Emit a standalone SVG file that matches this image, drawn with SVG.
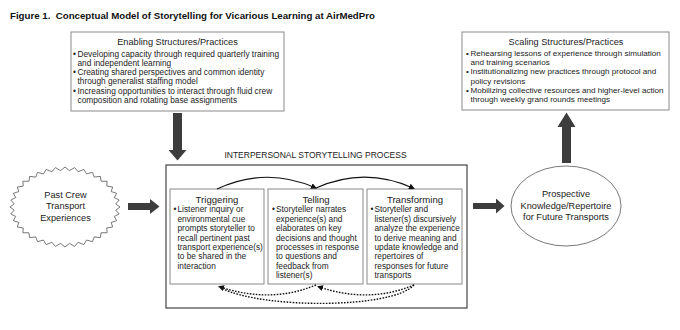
<svg xmlns="http://www.w3.org/2000/svg" width="680" height="330" viewBox="0 0 680 330">
<style>
text{font-family:"Liberation Sans",Arial,sans-serif;fill:#222}
.ttl{font-size:9.7px;font-weight:bold;fill:#111}
.h{font-size:9.2px;text-anchor:middle}
.hb{font-size:9.6px;text-anchor:middle}
.b{font-size:8.3px}
.s{font-size:8.1px}
.e{font-size:9.2px;text-anchor:middle}
.cap{font-size:8.5px;text-anchor:middle}
.box{fill:#fff;stroke:#8a8a8a;stroke-width:1}
.blk{fill:#3d3d3d}
.arc{fill:none;stroke:#111;stroke-width:1.2}
.dot{fill:none;stroke:#111;stroke-width:1.4;stroke-dasharray:1.6 1.4}
</style>
<defs>
<marker id="ah" markerWidth="6" markerHeight="6" refX="5" refY="3" orient="auto" markerUnits="userSpaceOnUse">
<path d="M0,0 L6,3 L0,6 Z" fill="#111"/>
</marker>
</defs>

<text class="ttl" x="10" y="19">Figure 1.&#160; Conceptual Model of Storytelling for Vicarious Learning at AirMedPro</text>

<g id="enabling">
<rect class="box" x="71" y="32" width="213" height="79"/>
<text class="h" x="177.5" y="45">Enabling Structures/Practices</text>
<text class="b" x="73" y="56.5">•</text>
<text class="b" x="77.5" y="56.5">Developing capacity through required quarterly training</text>
<text class="b" x="77.5" y="65.8">and independent learning</text>
<text class="b" x="73" y="75.1">•</text>
<text class="b" x="77.5" y="75.1">Creating shared perspectives and common identity</text>
<text class="b" x="77.5" y="84.4">through generalist staffing model</text>
<text class="b" x="73" y="93.7">•</text>
<text class="b" x="77.5" y="93.7">Increasing opportunities to interact through fluid crew</text>
<text class="b" x="77.5" y="103">composition and rotating base assignments</text>
</g>

<g id="scaling">
<rect class="box" x="462" y="32" width="207" height="78"/>
<text class="h" x="566" y="45">Scaling Structures/Practices</text>
<text class="s" x="466" y="55.7">•</text>
<text class="s" x="470.5" y="55.7">Rehearsing lessons of experience through simulation</text>
<text class="s" x="470.5" y="65">and training scenarios</text>
<text class="s" x="466" y="74.3">•</text>
<text class="s" x="470.5" y="74.3">Institutionalizing new practices through protocol and</text>
<text class="s" x="470.5" y="83.6">policy revisions</text>
<text class="s" x="466" y="92.9">•</text>
<text class="s" x="470.5" y="92.9">Mobilizing collective resources and higher-level action</text>
<text class="s" x="470.5" y="102.2">through weekly grand rounds meetings</text>
</g>

<g id="past">
<polygon fill="#fff" stroke="#555" stroke-width="0.8" stroke-linejoin="round" points="120,207 115.8,203.82 119.16,200.06 114.26,197.55 116.68,193.32 111.22,191.58 112.63,187 106.78,186.06 107.13,181.29 101.06,181.19 100.35,176.36 94.25,177.1 92.5,172.36 86.55,173.92 83.81,169.41 78.2,171.74 74.55,167.61 69.45,170.64 65,167 60.55,170.64 55.45,167.61 51.8,171.74 46.19,169.41 43.45,173.92 37.5,172.36 35.75,177.1 29.65,176.36 28.94,181.19 22.87,181.29 23.22,186.06 17.37,187 18.78,191.58 13.32,193.32 15.74,197.55 10.84,200.06 14.2,203.82 10,207 14.2,210.18 10.84,213.94 15.74,216.45 13.32,220.68 18.78,222.42 17.37,227 23.22,227.94 22.87,232.71 28.94,232.81 29.65,237.64 35.75,236.9 37.5,241.64 43.45,240.08 46.19,244.59 51.8,242.26 55.45,246.39 60.55,243.36 65,247 69.45,243.36 74.55,246.39 78.2,242.26 83.81,244.59 86.55,240.08 92.5,241.64 94.25,236.9 100.35,237.64 101.06,232.81 107.13,232.71 106.78,227.94 112.63,227 111.22,222.42 116.68,220.68 114.26,216.45 119.16,213.94 115.8,210.18"/>
<text class="e" x="65.5" y="198">Past Crew</text>
<text class="e" x="65.5" y="209.3">Transport</text>
<text class="e" x="65.5" y="220.6">Experiences</text>
</g>

<g id="process">
<rect x="166" y="165" width="301" height="143" fill="#fff" stroke="#444" stroke-width="1.2"/>
<text class="cap" x="315.5" y="158">INTERPERSONAL STORYTELLING PROCESS</text>
</g>

<g id="triggering">
<rect class="box" x="170" y="189" width="94" height="95"/>
<text class="hb" x="217" y="203">Triggering</text>
<text class="b" x="173.5" y="212.4">•</text>
<text class="b" x="177.5" y="212.4">Listener inquiry or</text>
<text class="b" x="177.5" y="221.8">environmental cue</text>
<text class="b" x="177.5" y="231.2">prompts storyteller to</text>
<text class="b" x="177.5" y="240.6">recall pertinent past</text>
<text class="b" x="177.5" y="250">transport experience(s)</text>
<text class="b" x="177.5" y="259.4">to be shared in the</text>
<text class="b" x="177.5" y="268.8">interaction</text>
</g>

<g id="telling">
<rect class="box" x="268" y="189" width="95" height="95"/>
<text class="hb" x="316" y="203">Telling</text>
<text class="b" x="272" y="212.4">•</text>
<text class="b" x="276" y="212.4">Storyteller narrates</text>
<text class="b" x="276" y="221.8">experience(s) and</text>
<text class="b" x="276" y="231.2">elaborates on key</text>
<text class="b" x="276" y="240.6">decisions and thought</text>
<text class="b" x="276" y="250">processes in response</text>
<text class="b" x="276" y="259.4">to questions and</text>
<text class="b" x="276" y="268.8">feedback from</text>
<text class="b" x="276" y="278.2">listener(s)</text>
</g>

<g id="transforming">
<rect class="box" x="367" y="189" width="95" height="95"/>
<text class="hb" x="415" y="203">Transforming</text>
<text class="b" x="370.5" y="212.4">•</text>
<text class="b" x="374.5" y="212.4">Storyteller and</text>
<text class="b" x="374.5" y="221.8">listener(s) discursively</text>
<text class="b" x="374.5" y="231.2">analyze the experience</text>
<text class="b" x="374.5" y="240.6">to derive meaning and</text>
<text class="b" x="374.5" y="250">update knowledge and</text>
<text class="b" x="374.5" y="259.4">repertoires of</text>
<text class="b" x="374.5" y="268.8">responses for future</text>
<text class="b" x="374.5" y="278.2">transports</text>
</g>

<g id="prospective">
<ellipse cx="566" cy="206" rx="55" ry="40" fill="#fff" stroke="#555" stroke-width="0.8"/>
<text class="e" x="566" y="197.3">Prospective</text>
<text class="e" x="566" y="208.8">Knowledge/Repertoire</text>
<text class="e" x="566" y="220">for Future Transports</text>
</g>

<g id="connectors">
<polygon class="blk" points="173,113 182,113 182,150 186.5,150 177.5,160.5 168.5,150 173,150"/>
<polygon class="blk" points="128,203 150,203 150,199 159.5,206.5 150,214 150,210 128,210"/>
<polygon class="blk" points="473,203 496,203 496,198.5 504.5,206 496,213.5 496,209 473,209"/>
<polygon class="blk" points="562,163 571,163 571,127 575.5,127 566.5,112.5 557.5,127 562,127"/>
<path class="arc" d="M217,189 Q266,166 316,188" marker-end="url(#ah)"/>
<path class="arc" d="M316,188 Q365,166 414,188.5" marker-end="url(#ah)"/>
<path class="dot" d="M316,285 Q270,304 219,286.5" marker-end="url(#ah)"/>
<path class="dot" d="M414,285 Q368,304 318,286.5" marker-end="url(#ah)"/>
<path class="dot" d="M414,285 C392,309 262,309 221,288"/>
</g>
</svg>
